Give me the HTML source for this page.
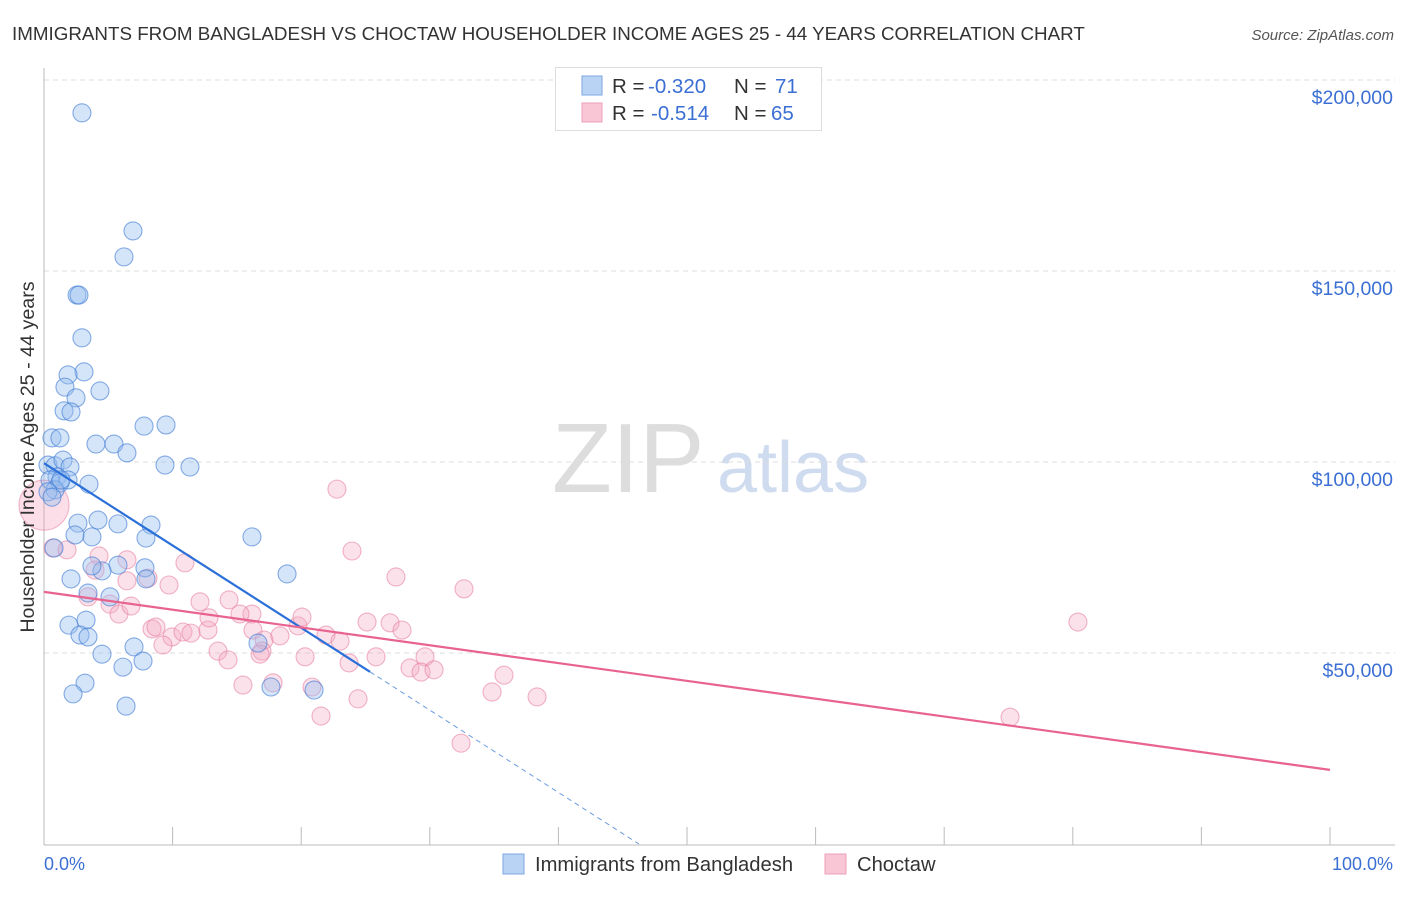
<!DOCTYPE html>
<html><head><meta charset="utf-8"><style>
body{margin:0;background:#fff;font-family:"Liberation Sans",sans-serif;}
svg text{font-family:"Liberation Sans",sans-serif;}
</style></head><body>
<svg id="chart" width="1406" height="892" viewBox="0 0 1406 892">
<text x="12" y="40" font-size="18.8" fill="#333">IMMIGRANTS FROM BANGLADESH VS CHOCTAW HOUSEHOLDER INCOME AGES 25 - 44 YEARS CORRELATION CHART</text>
<text x="1394" y="40" font-size="15" fill="#555" font-style="italic" text-anchor="end">Source: ZipAtlas.com</text>
<g>
<text x="552" y="492" font-size="98" fill="#ddd" font-family="Liberation Serif">ZIP</text>
<text x="717" y="492" font-size="72" fill="#cfdcf0">atlas</text>
</g>
<g id="grid"></g>
<g id="axes"></g>
<g id="pts"></g>
<g id="lines"></g>
<text transform="translate(34,457) rotate(-90)" font-size="19.7" fill="#333" text-anchor="middle">Householder Income Ages 25 - 44 years</text>
<text x="44" y="870" font-size="18" fill="#3b6fd4">0.0%</text>
<text x="1393" y="870" font-size="18" fill="#3b6fd4" text-anchor="end">100.0%</text>
<g>
<rect x="555.5" y="67.5" width="266" height="63" fill="#fff" stroke="#ddd"/>
<rect x="582" y="76" width="20" height="19" fill="#b9d3f5" stroke="#7ea6e0"/>
<rect x="582" y="103" width="20" height="19" fill="#f9c6d6" stroke="#eba0b8"/>
<text x="612" y="93" font-size="20.5" fill="#333">R = <tspan x="648" fill="#3b6fd4">-0.320</tspan><tspan x="734">N = </tspan><tspan x="775" fill="#3b6fd4">71</tspan></text>
<text x="612" y="120" font-size="20.5" fill="#333">R = <tspan x="651" fill="#3b6fd4">-0.514</tspan><tspan x="734">N = </tspan><tspan x="771" fill="#3b6fd4">65</tspan></text>
</g>
<g>
<rect x="503" y="854" width="21" height="20" fill="#b9d3f5" stroke="#7ea6e0"/>
<text x="535" y="871" font-size="20.2" fill="#333">Immigrants from Bangladesh</text>
<rect x="825" y="854" width="21" height="20" fill="#f9c6d6" stroke="#eba0b8"/>
<text x="857" y="871" font-size="20.2" fill="#333">Choctaw</text>
</g>
</svg>
<script>
const yTicks=[50,100,150,200];
const yTickLabels=["$50,000","$100,000","$150,000","$200,000"];
const blueX=[2.95,6.92,6.22,2.57,2.72,2.95,3.11,1.87,1.63,2.49,4.35,1.56,2.10,0.62,1.24,4.04,5.44,6.45,7.78,9.49,9.41,11.35,0.31,0.86,1.48,2.02,1.01,0.47,1.24,1.87,3.50,0.86,0.31,4.20,2.64,5.75,8.32,3.73,7.93,16.17,2.41,0.78,5.75,4.51,7.85,3.73,18.90,2.10,7.93,3.42,5.13,1.94,3.27,2.80,3.42,4.51,7.00,7.70,6.14,16.64,3.19,2.26,6.38,17.65,21.00,1.32,0.62];
const blueY=[191.4,160.5,153.7,143.7,143.7,132.5,123.6,122.8,119.6,116.8,118.6,113.4,113.1,106.3,106.3,104.7,104.7,102.4,109.4,109.7,99.2,98.7,99.2,99.0,100.5,98.7,96.1,95.3,94.5,95.3,94.2,92.7,92.2,84.8,84.0,83.8,83.5,80.4,80.1,80.4,80.9,77.5,73.0,71.5,72.3,72.8,70.7,69.4,69.4,65.7,64.7,57.3,58.6,54.7,54.2,49.7,51.6,47.9,46.3,52.6,42.1,39.3,36.1,41.1,40.3,95.3,90.8];
const pinkX=[0.70,1.79,4.28,6.45,3.97,6.45,8.09,10.96,3.42,5.13,5.83,6.77,9.72,12.13,14.39,16.17,22.78,23.95,27.37,32.66,80.40,8.40,8.71,9.95,10.81,12.75,11.43,12.83,15.24,16.25,17.11,16.95,18.35,19.75,20.06,21.93,23.02,25.12,26.91,27.84,13.53,14.31,16.80,20.30,23.72,25.82,28.46,29.63,29.32,30.33,15.47,17.81,20.84,21.54,24.42,34.84,35.77,38.34,32.43,75.12,9.25];
const pinkY=[77.5,77.0,75.4,74.4,71.7,68.9,69.6,73.6,64.7,62.8,60.2,62.3,67.8,63.4,63.9,60.2,92.9,76.7,69.9,66.8,58.1,56.3,56.8,54.2,55.5,56.0,55.2,59.2,60.2,56.0,53.4,50.5,54.5,57.1,59.4,54.7,53.1,58.1,57.9,56.0,50.5,48.2,49.7,49.0,47.4,49.0,46.1,49.0,45.0,45.6,41.6,42.2,41.1,33.5,38.0,39.8,44.2,38.5,26.4,33.2,52.1];
const bigPinkX=[0], bigPinkY=[88.7];
const blueTrend=[99.7,-2.155];
const pinkTrend=[66.0,-0.466];
const NS="http://www.w3.org/2000/svg";
const X0=44,X1=1330,Y0=844,PXK=191/50;
const sx=v=>X0+(X1-X0)*v/100, sy=v=>Y0-v*PXK;
function mk(t,a,p){const e=document.createElementNS(NS,t);for(const k in a)e.setAttribute(k,a[k]);p.appendChild(e);return e;}
const grid=document.getElementById('grid'),axes=document.getElementById('axes'),pts=document.getElementById('pts'),lines=document.getElementById('lines');
yTicks.forEach((t,i)=>{
 const l=mk('line',{x1:44,x2:1395,y1:sy(t),y2:sy(t),stroke:'#ddd','stroke-dasharray':'5,4'},grid);
 
 
 const tx=mk('text',{x:1393,y:sy(t)+24,'font-size':19.5,fill:'#3b6fd4','text-anchor':'end'},grid);
 tx.textContent=yTickLabels[i];
 
 
});
const ax=mk('line',{x1:44,x2:1395,y1:845,y2:845,stroke:'#bbb'},axes);


const ay=mk('line',{x1:44,x2:44,y1:68,y2:845,stroke:'#bbb'},axes);


for(let i=1;i<=10;i++){const tk=mk('line',{x1:sx(i*10),x2:sx(i*10),y1:827,y2:845,stroke:'#bbb'},axes);
 
 }
function dots(xs,ys,fill,stroke,name,r){xs.forEach((x,i)=>{const c=mk('circle',{cx:sx(x),cy:sy(ys[i]),r:r,fill:fill,stroke:stroke,'stroke-width':1.1},pts);
 
 });}
dots(bigPinkX,bigPinkY,'rgba(244,160,185,0.35)','rgba(230,120,155,0.5)','choctaw-point-large',25);
dots(pinkX,pinkY,'rgba(244,170,195,0.35)','rgba(230,120,155,0.55)','choctaw-point',9);
dots(blueX,blueY,'rgba(150,190,240,0.4)','rgba(60,120,210,0.6)','bangladesh-point',9);
const bEnd=25.35;
const b1=mk('line',{x1:sx(0),y1:sy(blueTrend[0]),x2:sx(bEnd),y2:sy(blueTrend[0]+blueTrend[1]*bEnd),stroke:'#2b70d9','stroke-width':2.2},lines);


const bz=-blueTrend[0]/blueTrend[1];
const b2=mk('line',{x1:sx(bEnd),y1:sy(blueTrend[0]+blueTrend[1]*bEnd),x2:sx(bz),y2:sy(0),stroke:'#6a9be0','stroke-width':1,'stroke-dasharray':'5,4'},lines);


const p1=mk('line',{x1:sx(0),y1:sy(pinkTrend[0]),x2:sx(100),y2:sy(pinkTrend[0]+pinkTrend[1]*100),stroke:'#e8638f','stroke-width':2.2},lines);


</script>
</body></html>
